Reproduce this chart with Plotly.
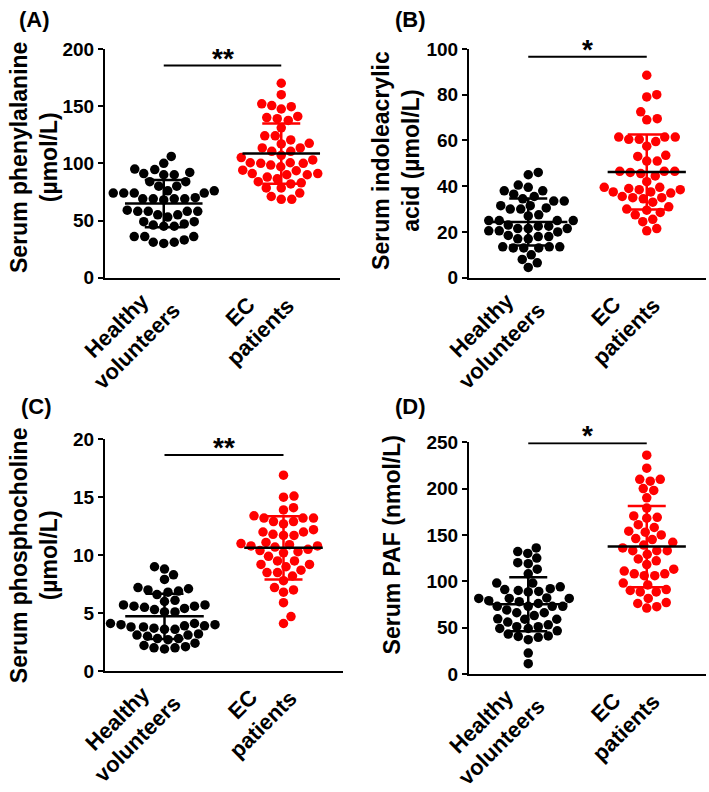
import numpy as np
import plotly.graph_objects as go

# ---------------- data ----------------
categories = ["Healthy<br>volunteers", "EC<br>patients"]
panel_letters = ["(A)", "(B)", "(C)", "(D)"]
y_titles = ["Serum phenylalanine<br>(µmol/L)",
            "Serum indoleacrylic<br>acid (µmol/L)",
            "Serum phosphocholine<br>(µmol/L)",
            "Serum PAF (nmol/L)"]
significance = ["**", "*", "**", "*"]
y_max = [200, 100, 20, 250]
y_dtick = [50, 20, 5, 50]

phe_healthy = [106, 100, 94.5, 95, 92, 90, 91, 90, 84, 84, 80, 80, 74, 74, 74, 74, 76, 76,
               69, 69, 70, 69, 68, 69, 58, 58, 58, 59, 58, 55, 55, 53, 49, 47, 45, 45, 46, 49,
               36, 36, 31, 30, 31, 33, 36]
phe_ec = [170, 160, 152, 147.5, 149.5, 150.5, 139, 137.5, 141, 140, 131, 124, 124, 120.5, 117.5,
          117, 113.5, 110.5, 110.5, 113.5, 107, 103, 100.5, 100, 98.5, 100, 100.5, 105, 94, 91,
          90, 88, 90, 91, 93.5, 97, 86.5, 83, 78.5, 78.5, 82, 84, 74, 71, 68.5, 68.5]
iaa_healthy = [45, 46, 40.5, 39.5, 38, 38, 36.5, 35.5, 33.5, 33.5, 34.5, 31.5, 31.5, 30, 30, 30.5,
               27, 27.5, 25, 25, 25, 25, 23, 22.5, 22.5, 21.5, 20.5, 20, 20.5, 21.5, 21.5, 18, 17,
               18.5, 17, 18, 13.5, 13, 13.5, 13, 13, 13.5, 10, 8, 6.5, 4.5]
iaa_ec = [88.5, 80, 79, 72.5, 69, 69.5, 61.5, 60.5, 59.5, 60.5, 61.5, 61.5, 57.5, 53, 51, 51, 53.5,
          46.5, 45.5, 46.5, 46.5, 44.5, 46, 42, 39.5, 38.5, 37.5, 37, 37.5, 38.5, 39, 39.5, 35,
          34.5, 35.5, 33, 35, 29.5, 27.5, 31, 28.5, 30, 24.5, 25.5, 20.5, 21.5]
pc_healthy = [9.0, 8.8, 7.9, 8.3, 7.2, 7.1, 6.9, 7.0, 6.8, 6.6, 6.0, 6.1, 5.7, 5.7, 5.6, 5.4, 5.5,
              5.6, 5.1, 5.1, 5.3, 4.1, 4.0, 3.9, 3.8, 3.8, 3.9, 4.0, 4.1, 3.6, 3.6, 3.7, 3.1, 2.7,
              3.0, 2.8, 3.1, 3.2, 2.8, 2.2, 2.0, 1.9, 2.0, 2.1, 2.4]
pc_ec = [16.9, 15.0, 15.1, 14.1, 13.9, 13.2, 13.2, 12.9, 12.7, 12.9, 13.2, 13.4, 12.2, 12.0, 11.8,
         12.0, 11.7, 11.7, 11.1, 10.7, 10.9, 10.8, 10.8, 11.0, 10.4, 10.2, 9.9, 10.3, 10.5, 9.5,
         9.2, 9.0, 9.2, 9.5, 8.5, 8.7, 8.2, 8.5, 7.8, 7.0, 6.8, 7.2, 5.9, 4.7, 4.1]
paf_healthy = [136, 130, 132, 125, 120, 119, 113, 98, 98, 92, 91, 94, 88.5, 90, 89, 82, 79, 81.5,
               81.5, 78, 81.5, 73, 73, 73, 73, 69, 66, 59, 59.5, 59, 63, 51, 49, 49, 51, 46.5, 41,
               39.5, 37, 43, 40.5, 22.5, 11, 66, 56, 76, 108, 53]
paf_ec = [236, 222, 210, 208, 210, 198, 200, 190, 179, 169, 170.5, 168, 161, 158, 153, 146, 150,
          154, 136, 133, 133, 133, 139, 142, 122, 118, 113, 129, 111, 108, 106, 106, 108, 98, 91,
          88.5, 88.5, 90, 76, 81.5, 77, 71, 72.5, 96, 124, 145]

panel_data = [(phe_healthy, phe_ec), (iaa_healthy, iaa_ec), (pc_healthy, pc_ec), (paf_healthy, paf_ec)]

# ---------------- layout (pixels) ----------------
W, H = 709, 792
panel_px = [(105, 340, 40, 275), (469, 706, 40, 275), (105, 343, 441, 679), (469, 706, 444, 682)]
sig_y = [185.5, 96.6, 18.65, 249]
title_px = [(34, 152), (396, 155), (34, 560), (392, 550)]
letter_px = [(34, 10), (410, 10), (36, 407), (410, 407)]
cat_shift = [(-37, -58), (-31, -44)]
group_colors = ["black", "#ff0000"]
sd_colors = ["black", "#ff0000"]
FONT = "Liberation Sans, Arial, sans-serif"
DOT = 9.5


def swarm(values, ppu_y, ppu_x, d):
    vals = np.asarray(values, dtype=float)
    order = np.argsort(vals)
    placed = []
    offs = np.zeros(len(vals))
    for i in order:
        y = vals[i] * ppu_y
        chosen = None
        k = 0
        while chosen is None:
            for sgn in ([0] if k == 0 else [1, -1]):
                x = sgn * k * 0.5
                if all((x - px) ** 2 + (y - py) ** 2 >= d * d for px, py in placed):
                    chosen = x
                    break
            k += 1
        placed.append((chosen, y))
        offs[i] = chosen / ppu_x
    return offs


fig = go.Figure()
annotations = []
shapes = []

for p in range(4):
    x0, x1, y0, y1 = panel_px[p]
    xa = "x" if p == 0 else f"x{p + 1}"
    ya = "y" if p == 0 else f"y{p + 1}"
    ppu_x = (x1 - x0) / 2.0
    ppu_y = (y1 - y0) / y_max[p]
    for g in range(2):
        vals = np.asarray(panel_data[p][g], dtype=float)
        offs = swarm(vals, ppu_y, ppu_x, DOT + 0.6)
        fig.add_trace(go.Scatter(x=g + offs, y=vals, mode="markers", xaxis=xa, yaxis=ya,
                                 marker=dict(size=DOT, color=group_colors[g], line=dict(width=0)),
                                 showlegend=False, hoverinfo="y", cliponaxis=False))
    for g in range(2):
        vals = np.asarray(panel_data[p][g], dtype=float)
        m = vals.mean()
        sd = vals.std(ddof=1)
        fig.add_trace(go.Scatter(x=[g], y=[m], mode="markers", xaxis=xa, yaxis=ya,
                                 marker=dict(size=1, opacity=0),
                                 error_y=dict(type="data", array=[sd], visible=True,
                                              color=sd_colors[g], thickness=2.5, width=19),
                                 showlegend=False, hoverinfo="skip"))
        fig.add_trace(go.Scatter(x=[g - 0.33, g + 0.33], y=[m, m], mode="lines", xaxis=xa, yaxis=ya,
                                 line=dict(color="black", width=2.5),
                                 showlegend=False, hoverinfo="skip"))

    axis_x = dict(domain=[x0 / W, x1 / W], range=[-0.5, 1.5], showline=True, linecolor="black",
                  linewidth=2.5, showticklabels=False, ticks="", showgrid=False, zeroline=False,
                  anchor=ya, fixedrange=True)
    axis_y = dict(domain=[1 - y1 / H, 1 - y0 / H], range=[0, y_max[p]], dtick=y_dtick[p],
                  showline=True, linecolor="black", linewidth=2, ticks="outside", ticklen=5,
                  tickwidth=2, tickcolor="black", showgrid=False, zeroline=False, anchor=xa,
                  tickfont=dict(family=FONT, size=19, color="black", weight="bold"), fixedrange=True)
    key = "" if p == 0 else str(p + 1)
    fig.update_layout(**{f"xaxis{key}": axis_x, f"yaxis{key}": axis_y})

    # significance bar
    shapes.append(dict(type="line", xref=xa, yref=ya, x0=0, x1=1, y0=sig_y[p], y1=sig_y[p],
                       line=dict(color="black", width=2)))
    annotations.append(dict(xref=xa, yref=ya, x=0.5, y=sig_y[p], text=f"<b>{significance[p]}</b>",
                            showarrow=False, yanchor="bottom", yshift=-10,
                            font=dict(family=FONT, size=28, color="black")))
    # category labels
    for g, (dx, dy) in enumerate(cat_shift):
        annotations.append(dict(xref=xa, yref=ya, x=g, y=0, text=f"<b>{categories[g]}</b>",
                                showarrow=False, textangle=-45, align="center",
                                xanchor="center", yanchor="middle", xshift=dx, yshift=dy,
                                font=dict(family=FONT, size=22, color="black")))
    # y title
    tx, ty = title_px[p]
    annotations.append(dict(xref="paper", yref="paper", x=tx / W, y=1 - ty / H,
                            text=f"<b>{y_titles[p]}</b>", showarrow=False, textangle=-90,
                            align="center", xanchor="center", yanchor="middle",
                            font=dict(family=FONT, size=23, color="black")))
    lx, ly = letter_px[p]
    annotations.append(dict(xref="paper", yref="paper", x=lx / W, y=1 - ly / H,
                            text=f"<b>{panel_letters[p]}</b>", showarrow=False,
                            xanchor="center", yanchor="middle",
                            font=dict(family=FONT, size=22, color="black")))

fig.update_layout(width=W, height=H, margin=dict(l=0, r=0, t=0, b=0),
                  paper_bgcolor="white", plot_bgcolor="white",
                  annotations=annotations, shapes=shapes, showlegend=False,
                  font=dict(family=FONT, color="black"))

fig.write_html("out.html", config={"displayModeBar": False, "staticPlot": True},
               post_script="document.body.style.margin='0';document.body.style.padding='0';"
                           "document.body.style.overflow='hidden';")
